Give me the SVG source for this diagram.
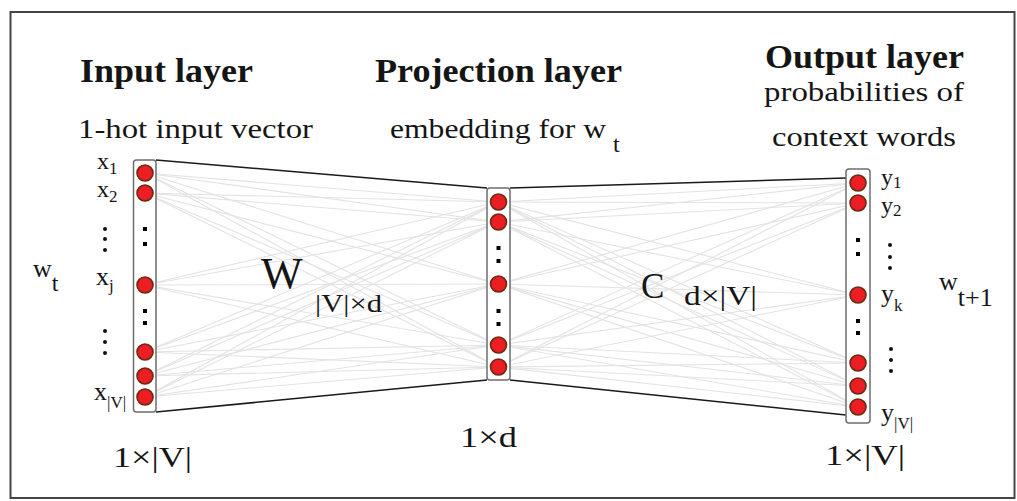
<svg xmlns="http://www.w3.org/2000/svg" width="1017" height="501" viewBox="0 0 1017 501">
<style>
text{font-family:"Liberation Serif","Times New Roman",serif;fill:#151515}
.title{font-weight:bold;font-size:34px}
.sub{font-size:28px}
.lbl{font-size:26px}
.stk{font-size:24px}
.sm{font-size:17px}
.fan line{stroke:#e3e3e3;stroke-width:1.1}
.edge{stroke:#1a1a1a;stroke-width:1.6;fill:none}
.col{fill:#fff;stroke:#6e6e6e;stroke-width:1.5}
.n{fill:#ec1e24;stroke:#6b2a12;stroke-width:1.6}
.sq{fill:#000}
.dot{fill:#111}
</style>
<rect x="10.5" y="12" width="1004" height="486" fill="#fff" stroke="#444" stroke-width="2"/>

<g id="connectors">
<g class="fan">
<line x1="145" y1="173" x2="498" y2="202"/><line x1="145" y1="173" x2="498" y2="222"/><line x1="145" y1="173" x2="498" y2="284"/><line x1="145" y1="173" x2="498" y2="345"/><line x1="145" y1="173" x2="498" y2="367"/>
<line x1="145" y1="193" x2="498" y2="202"/><line x1="145" y1="193" x2="498" y2="222"/><line x1="145" y1="193" x2="498" y2="284"/><line x1="145" y1="193" x2="498" y2="345"/><line x1="145" y1="193" x2="498" y2="367"/>
<line x1="145" y1="285" x2="498" y2="202"/><line x1="145" y1="285" x2="498" y2="222"/><line x1="145" y1="285" x2="498" y2="284"/><line x1="145" y1="285" x2="498" y2="345"/><line x1="145" y1="285" x2="498" y2="367"/>
<line x1="145" y1="352" x2="498" y2="202"/><line x1="145" y1="352" x2="498" y2="222"/><line x1="145" y1="352" x2="498" y2="284"/><line x1="145" y1="352" x2="498" y2="345"/><line x1="145" y1="352" x2="498" y2="367"/>
<line x1="145" y1="376" x2="498" y2="202"/><line x1="145" y1="376" x2="498" y2="222"/><line x1="145" y1="376" x2="498" y2="284"/><line x1="145" y1="376" x2="498" y2="345"/><line x1="145" y1="376" x2="498" y2="367"/>
<line x1="145" y1="397" x2="498" y2="202"/><line x1="145" y1="397" x2="498" y2="222"/><line x1="145" y1="397" x2="498" y2="284"/><line x1="145" y1="397" x2="498" y2="345"/><line x1="145" y1="397" x2="498" y2="367"/>
<line x1="498" y1="202" x2="858" y2="183"/><line x1="498" y1="202" x2="858" y2="203"/><line x1="498" y1="202" x2="858" y2="295"/><line x1="498" y1="202" x2="858" y2="363"/><line x1="498" y1="202" x2="858" y2="386"/><line x1="498" y1="202" x2="858" y2="407"/>
<line x1="498" y1="222" x2="858" y2="183"/><line x1="498" y1="222" x2="858" y2="203"/><line x1="498" y1="222" x2="858" y2="295"/><line x1="498" y1="222" x2="858" y2="363"/><line x1="498" y1="222" x2="858" y2="386"/><line x1="498" y1="222" x2="858" y2="407"/>
<line x1="498" y1="284" x2="858" y2="183"/><line x1="498" y1="284" x2="858" y2="203"/><line x1="498" y1="284" x2="858" y2="295"/><line x1="498" y1="284" x2="858" y2="363"/><line x1="498" y1="284" x2="858" y2="386"/><line x1="498" y1="284" x2="858" y2="407"/>
<line x1="498" y1="345" x2="858" y2="183"/><line x1="498" y1="345" x2="858" y2="203"/><line x1="498" y1="345" x2="858" y2="295"/><line x1="498" y1="345" x2="858" y2="363"/><line x1="498" y1="345" x2="858" y2="386"/><line x1="498" y1="345" x2="858" y2="407"/>
<line x1="498" y1="367" x2="858" y2="183"/><line x1="498" y1="367" x2="858" y2="203"/><line x1="498" y1="367" x2="858" y2="295"/><line x1="498" y1="367" x2="858" y2="363"/><line x1="498" y1="367" x2="858" y2="386"/><line x1="498" y1="367" x2="858" y2="407"/>
</g>
<line class="edge" x1="156" y1="160" x2="487" y2="188"/>
<line class="edge" x1="156" y1="412" x2="487" y2="380"/>
<line class="edge" x1="510" y1="188" x2="846" y2="178"/>
<line class="edge" x1="510" y1="380" x2="846" y2="415"/>
</g>

<g id="input-layer">
<text class="title" x="80" y="82" textLength="173" lengthAdjust="spacingAndGlyphs">Input layer</text>
<text class="sub" x="78" y="138" textLength="235" lengthAdjust="spacingAndGlyphs">1-hot input vector</text>
<rect class="col" x="133.5" y="160" width="22.5" height="252" rx="3"/>
<circle class="n" cx="145" cy="173" r="8"/><circle class="n" cx="145" cy="193" r="8"/>
<rect class="sq" x="143" y="227" width="4" height="4"/><rect class="sq" x="143" y="242" width="4" height="4"/>
<circle class="n" cx="145" cy="285" r="8"/>
<rect class="sq" x="143" y="309" width="4" height="4"/><rect class="sq" x="143" y="321" width="4" height="4"/>
<circle class="n" cx="145" cy="352" r="8"/><circle class="n" cx="145" cy="376" r="8"/><circle class="n" cx="145" cy="397" r="8"/>
<text class="stk" x="97" y="169">x<tspan class="sm" dy="5">1</tspan></text>
<text class="stk" x="97" y="197">x<tspan class="sm" dy="5">2</tspan></text>
<circle class="dot" cx="105" cy="229" r="2"/><circle class="dot" cx="105" cy="239" r="2"/><circle class="dot" cx="105" cy="250" r="2"/>
<text class="lbl" x="96" y="285">x<tspan class="sm" dy="6">j</tspan></text>
<circle class="dot" cx="105" cy="331" r="2"/><circle class="dot" cx="105" cy="342" r="2"/><circle class="dot" cx="105" cy="353" r="2"/>
<text class="lbl" x="94" y="400">x<tspan class="sm" dy="8">|V|</tspan></text>
<text class="lbl" x="33" y="277">w<tspan style="font-size:24px" dy="14">t</tspan></text>
<text style="font-size:29px" x="113" y="467" textLength="79" lengthAdjust="spacingAndGlyphs">1×|V|</text>
</g>

<g id="projection-layer">
<text class="title" x="375" y="82" textLength="247" lengthAdjust="spacingAndGlyphs">Projection layer</text>
<text class="sub" x="390" y="138" textLength="216" lengthAdjust="spacingAndGlyphs">embedding for w</text>
<text style="font-size:24px" x="613" y="152">t</text>
<rect class="col" x="487" y="188" width="23" height="192" rx="3"/>
<circle class="n" cx="498.5" cy="202" r="8"/><circle class="n" cx="498.5" cy="222" r="8"/>
<rect class="sq" x="496.5" y="246" width="4" height="4"/><rect class="sq" x="496.5" y="259" width="4" height="4"/>
<circle class="n" cx="498.5" cy="284" r="8"/>
<rect class="sq" x="496.5" y="309" width="4" height="4"/><rect class="sq" x="496.5" y="322" width="4" height="4"/>
<circle class="n" cx="498.5" cy="345" r="8"/><circle class="n" cx="498.5" cy="367" r="8"/>
<text style="font-size:29px" x="460" y="447" textLength="57" lengthAdjust="spacingAndGlyphs">1×d</text>
<text style="font-size:44px" x="261" y="288">W</text>
<text style="font-size:25px" x="315" y="312" textLength="67" lengthAdjust="spacingAndGlyphs">|V|×d</text>
</g>

<g id="output-layer">
<text class="title" x="765" y="68" textLength="199" lengthAdjust="spacingAndGlyphs">Output layer</text>
<text class="sub" x="764" y="101" textLength="200" lengthAdjust="spacingAndGlyphs">probabilities of</text>
<text class="sub" x="772" y="146" textLength="184" lengthAdjust="spacingAndGlyphs">context words</text>
<rect class="col" x="846" y="169" width="24" height="254" rx="3"/>
<circle class="n" cx="858" cy="183" r="8"/><circle class="n" cx="858" cy="203" r="8"/>
<rect class="sq" x="856" y="238" width="4" height="4"/><rect class="sq" x="856" y="252" width="4" height="4"/>
<circle class="n" cx="858" cy="295" r="8"/>
<rect class="sq" x="856" y="319" width="4" height="4"/><rect class="sq" x="856" y="331" width="4" height="4"/>
<circle class="n" cx="858" cy="363" r="8"/><circle class="n" cx="858" cy="386" r="8"/><circle class="n" cx="858" cy="407" r="8"/>
<text class="stk" x="881" y="185">y<tspan class="sm" dy="3">1</tspan></text>
<text class="stk" x="881" y="213">y<tspan class="sm" dy="3">2</tspan></text>
<circle class="dot" cx="890" cy="245" r="2"/><circle class="dot" cx="890" cy="257" r="2"/><circle class="dot" cx="890" cy="268" r="2"/>
<text class="lbl" x="881" y="302">y<tspan class="sm" dy="9">k</tspan></text>
<circle class="dot" cx="891" cy="349" r="2"/><circle class="dot" cx="891" cy="360" r="2"/><circle class="dot" cx="891" cy="371" r="2"/>
<text class="lbl" x="881" y="421">y<tspan class="sm" dy="8">|V|</tspan></text>
<text class="lbl" x="939" y="290">w<tspan dy="16">t+1</tspan></text>
<text style="font-size:29px" x="825" y="465" textLength="80" lengthAdjust="spacingAndGlyphs">1×|V|</text>
<text style="font-size:35px" x="641" y="298">C</text>
<text style="font-size:28px" x="684" y="305" textLength="73" lengthAdjust="spacingAndGlyphs">d×|V|</text>
</g>
</svg>
